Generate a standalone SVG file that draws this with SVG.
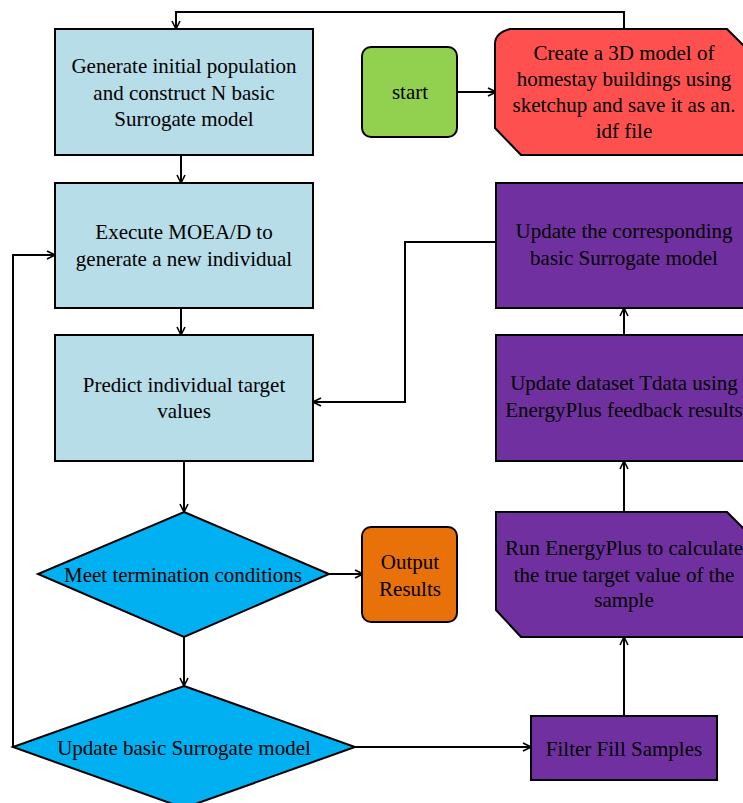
<svg xmlns="http://www.w3.org/2000/svg" width="743" height="803" viewBox="0 0 743 803">
<defs>
<style>
.t{font-family:"Liberation Serif","Times New Roman",serif;font-size:21px;fill:#000;text-anchor:middle}
.s{stroke:#000;stroke-width:2}
.c{fill:none;stroke:#000;stroke-width:2}
</style>
<marker id="a" viewBox="0 0 10 10" refX="9" refY="5" markerWidth="10" markerHeight="10" markerUnits="userSpaceOnUse" orient="auto">
<path d="M1,1 L9,5 L1,9" fill="none" stroke="#000" stroke-width="1.6"/>
</marker>
</defs>
<rect width="743" height="803" fill="#fff"/>
<g id="connectors">
<path class="c" d="M624,29 V12 H176 V29" marker-end="url(#a)"/>
<path class="c" d="M457,92 H496" marker-end="url(#a)"/>
<path class="c" d="M181,155 V183" marker-end="url(#a)"/>
<path class="c" d="M181,308 V335" marker-end="url(#a)"/>
<path class="c" d="M496,242 H405 V402 H313" marker-end="url(#a)"/>
<path class="c" d="M184,461 V512" marker-end="url(#a)"/>
<path class="c" d="M329,574 H363" marker-end="url(#a)"/>
<path class="c" d="M184,637 V686" marker-end="url(#a)"/>
<path class="c" d="M13,747 V255 H55" marker-end="url(#a)"/>
<path class="c" d="M355,747 H531" marker-end="url(#a)"/>
<path class="c" d="M624,716 V637" marker-end="url(#a)"/>
<path class="c" d="M624,512 V461" marker-end="url(#a)"/>
<path class="c" d="M624,335 V308" marker-end="url(#a)"/>
</g>
<g id="n1">
<rect class="s" x="55" y="29" width="258" height="126" fill="#B7DDE8"/>
<text class="t" x="184" y="73">Generate initial population</text>
<text class="t" x="184" y="99.5">and construct N basic</text>
<text class="t" x="184" y="126">Surrogate model</text>
</g>
<g id="start">
<rect class="s" x="362" y="47" width="95" height="90" rx="9" fill="#92D050"/>
<text class="t" x="410" y="99">start</text>
</g>
<g id="create">
<path class="s" d="M510,29 H727 L754,56 V140 Q754,155 740,155 H521 L495,128 V44 Q495,33 510,29 Z" fill="#FF5050"/>
<text class="t" x="624" y="60">Create a 3D model of</text>
<text class="t" x="624" y="86">homestay buildings using</text>
<text class="t" x="624" y="112">sketchup and save it as an.</text>
<text class="t" x="624" y="138">idf file</text>
</g>
<g id="n2">
<rect class="s" x="55" y="183" width="258" height="125" fill="#B7DDE8"/>
<text class="t" x="184" y="239">Execute MOEA/D to</text>
<text class="t" x="184" y="266">generate a new individual</text>
</g>
<g id="upd_corr">
<rect class="s" x="496" y="183" width="258" height="125" fill="#7030A0"/>
<text class="t" x="624" y="238">Update the corresponding</text>
<text class="t" x="624" y="265">basic Surrogate model</text>
</g>
<g id="n3">
<rect class="s" x="55" y="335" width="258" height="126" fill="#B7DDE8"/>
<text class="t" x="184" y="392">Predict individual target</text>
<text class="t" x="184" y="418">values</text>
</g>
<g id="upd_data">
<rect class="s" x="496" y="335" width="258" height="126" fill="#7030A0"/>
<text class="t" x="624" y="390">Update dataset Tdata using</text>
<text class="t" x="624" y="417">EnergyPlus feedback results</text>
</g>
<g id="d1">
<polygon class="s" points="184,512 329,574 184,637 38,574" fill="#00B0F0"/>
<text class="t" x="183" y="582">Meet termination conditions</text>
</g>
<g id="output">
<rect class="s" x="362" y="527" width="95" height="95" rx="9" fill="#E8710A"/>
<text class="t" x="410" y="569">Output</text>
<text class="t" x="410" y="596">Results</text>
</g>
<g id="run">
<path class="s" d="M496,512 H727 L754,539 V637 H521 L496,610 Z" fill="#7030A0"/>
<text class="t" x="624" y="555">Run EnergyPlus to calculate</text>
<text class="t" x="624" y="582">the true target value of the</text>
<text class="t" x="624" y="607">sample</text>
</g>
<g id="d2">
<polygon class="s" points="184,686 355,747 184,808 13,747" fill="#00B0F0"/>
<text class="t" x="184" y="755">Update basic Surrogate model</text>
</g>
<g id="filter">
<rect class="s" x="531" y="716" width="186" height="64" fill="#7030A0"/>
<text class="t" x="624" y="756">Filter Fill Samples</text>
</g>
</svg>
